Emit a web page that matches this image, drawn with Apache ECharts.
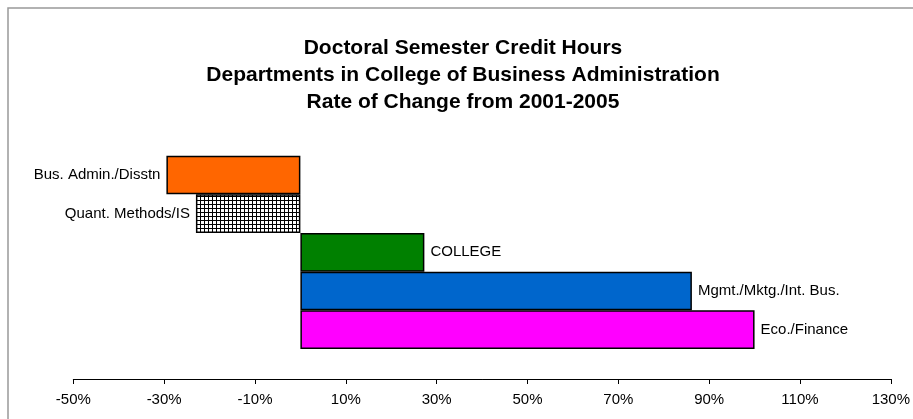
<!DOCTYPE html>
<html>
<head>
<meta charset="utf-8">
<script src="https://cdn.jsdelivr.net/npm/echarts@6/dist/echarts.min.js"></script>
<style>
  html, body { margin: 0; padding: 0; background: #fff; }
  #chart { width: 913px; height: 419px; }
</style>
</head>
<body>
<div id="chart"></div>
<script>
// data
const categories = ['Bus. Admin./Disstn', 'Quant. Methods/IS', 'COLLEGE', 'Mgmt./Mktg./Int. Bus.', 'Eco./Finance']
const changeRates = [-29.5, -23, 27.3, 86.2, 100]
const tickValues = [-50, -30, -10, 10, 30, 50, 70, 90, 110, 130]

// little cross hatch for the Quant. Methods bar
const hatch = document.createElement('canvas')
hatch.width = 4
hatch.height = 4
const hctx = hatch.getContext('2d')
hctx.fillStyle = '#fff'
hctx.fillRect(0, 0, 4, 4)
hctx.fillStyle = '#000'
hctx.fillRect(0, 0, 4, 1)
hctx.fillRect(0, 0, 1, 4)

const barColors = ['#ff6600', {image: hatch, repeat: 'repeat'}, '#008000', '#0066cc', '#ff00ff']

const font = "'Liberation Sans', Arial, sans-serif"

const chart = echarts.init(document.getElementById('chart'))
const option = {
  animation: false,
  title: {
    text: 'Doctoral Semester Credit Hours\nDepartments in College of Business Administration\nRate of Change from 2001-2005',
    left: 463,
    top: 35,
    padding: 0,
    textAlign: 'center',
    textStyle: {
      fontFamily: font,
      fontSize: 21,
      fontWeight: 'bold',
      color: '#000',
      lineHeight: 27
    }
  },
  graphic: [{
    type: 'rect',
    z: -1,
    shape: {x: 8, y: 8, width: 1000, height: 1000},
    style: {fill: 'none', stroke: '#999', lineWidth: 1.5}
  }],
  grid: {
    left: 73.3,
    right: 18.7,
    top: 155.7,
    bottom: 70
  },
  xAxis: {
    type: 'value',
    min: -50,
    max: 130,
    offset: 30,
    splitLine: {show: false},
    axisLine: {show: true, lineStyle: {color: '#000', width: 1}},
    axisTick: {show: true, length: 5, lineStyle: {color: '#000'}, customValues: tickValues},
    axisLabel: {
      customValues: tickValues,
      formatter: v => v + '%',
      color: '#000',
      fontFamily: font,
      fontSize: 15,
      margin: 13
    }
  },
  yAxis: {
    type: 'category',
    data: categories,
    inverse: true,
    show: false
  },
  series: [{
    type: 'bar',
    barWidth: '100%',
    data: changeRates.map((v, i) => ({
      value: v,
      itemStyle: {color: barColors[i]},
      label: {position: v < 0 ? 'left' : 'right'}
    })),
    itemStyle: {borderColor: '#000', borderWidth: 1.5},
    label: {
      show: true,
      formatter: '{b}',
      distance: 6,
      color: '#000',
      fontFamily: font,
      fontSize: 15
    }
  }]
}
chart.setOption(option)
</script>
</body>
</html>
